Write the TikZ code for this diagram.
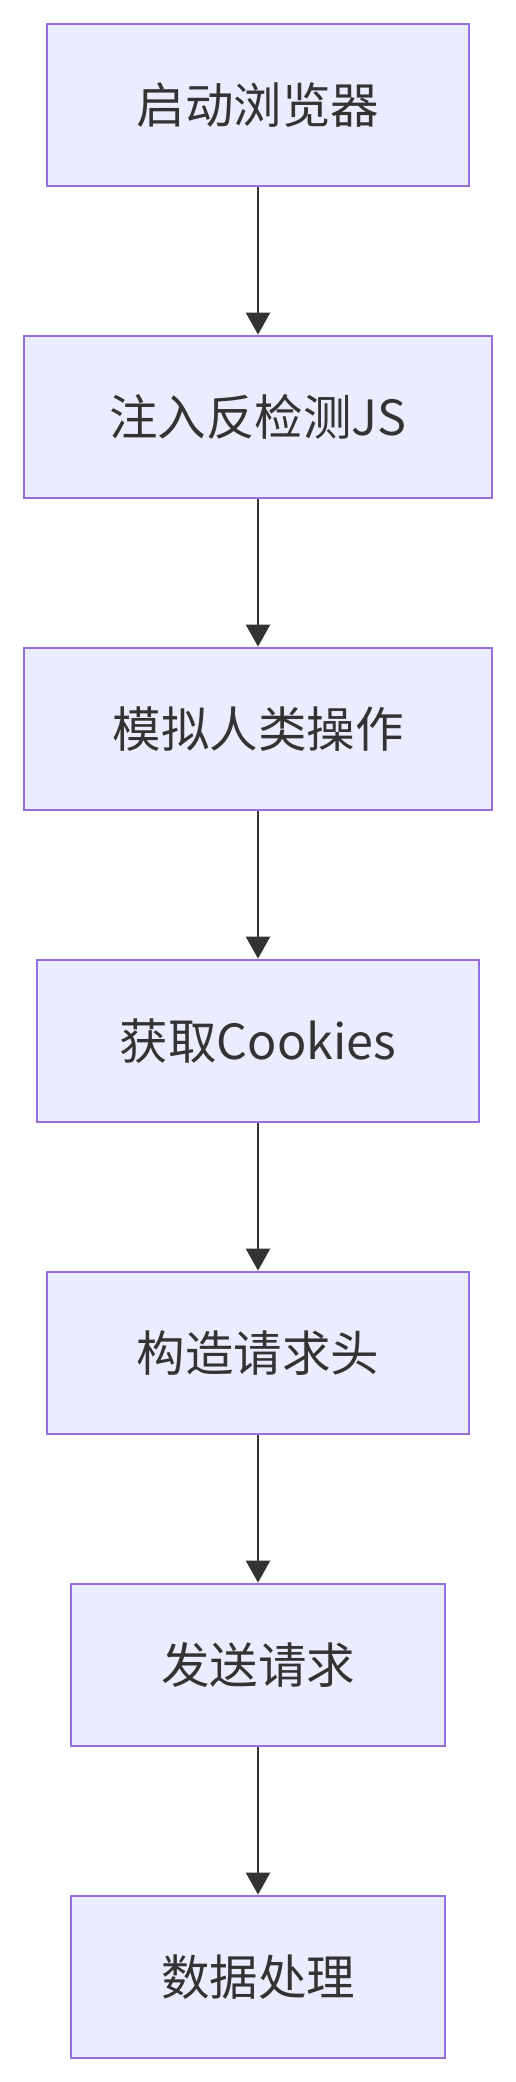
\documentclass[tikz,border=0pt]{standalone}
\usepackage{fontspec}
\usepackage{xcolor}
\usepackage{tikz}
\usetikzlibrary{arrows.meta}
\newfontfamily\cjk{Noto Sans CJK SC}

\definecolor{boxfill}{HTML}{ECECFF}
\definecolor{boxline}{HTML}{9370DB}
\definecolor{arrowline}{HTML}{333333}

\tikzset{
  stepbox/.style={draw=boxline, fill=boxfill, line width=2.8pt, minimum height=162pt,
    inner sep=0pt, font=\cjk\fontsize{48.5pt}{52pt}\selectfont, text=arrowline},
  flow/.style={->, line width=2.6pt, draw=arrowline}
}

\begin{document}
\begin{tikzpicture}[>={Triangle[length=22pt,width=24pt]}, node distance=312pt]
  \useasboundingbox (0,0) rectangle (516pt,-2082pt);
  \node [stepbox, minimum width=422pt] at (258pt,-105pt) (S1) {启动浏览器};
  \node [stepbox, minimum width=468pt, below of=S1] (S2) {注入反检测JS};
  \node [stepbox, minimum width=468pt, below of=S2] (S3) {模拟人类操作};
  \node [stepbox, minimum width=442pt, below of=S3] (S4) {获取Cookies};
  \node [stepbox, minimum width=422pt, below of=S4] (S5) {构造请求头};
  \node [stepbox, minimum width=374pt, below of=S5] (S6) {发送请求};
  \node [stepbox, minimum width=374pt, below of=S6] (S7) {数据处理};

  \draw [flow] (S1) -- (S2);
  \draw [flow] (S2) -- (S3);
  \draw [flow] (S3) -- (S4);
  \draw [flow] (S4) -- (S5);
  \draw [flow] (S5) -- (S6);
  \draw [flow] (S6) -- (S7);
\end{tikzpicture}
\end{document}
